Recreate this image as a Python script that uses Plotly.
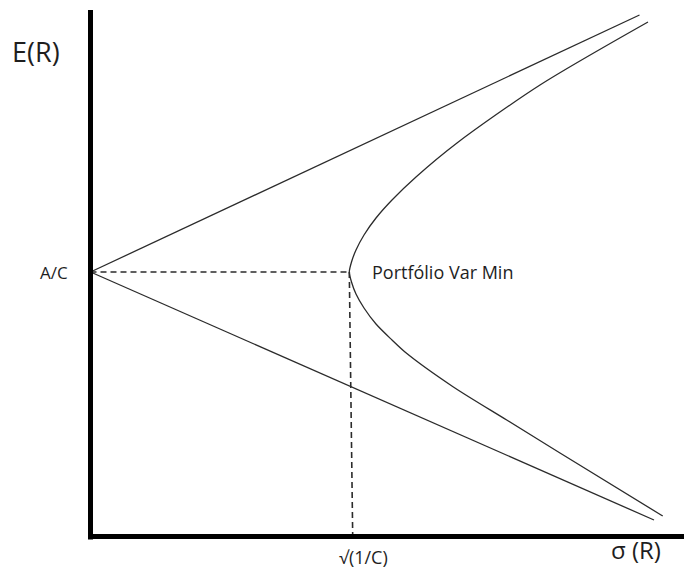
import plotly.graph_objects as go

# Key levels of the mean-variance diagram (arbitrary units)
A_OVER_C = 2.645          # E(R) of the minimum-variance portfolio
SIGMA_MIN = 2.588         # sqrt(1/C), its standard deviation
SIGMA_FOOT = 2.622        # where the dropped guide meets the sigma axis

# Efficient frontier (upper branch, top to vertex, then lower branch)
frontier_sigma = [5.575, 4.495, 3.665, 3.255, 3.015, 2.855, 2.735, 2.655, 2.61, 2.588,
                  2.61, 2.655, 2.735, 2.855, 3.015, 3.145, 3.625, 4.162, 4.695, 5.722]
frontier_ret = [5.145, 4.515, 3.935, 3.595, 3.365, 3.185, 3.015, 2.865, 2.745, 2.645,
                2.545, 2.425, 2.285, 2.125, 1.965, 1.845, 1.498, 1.165, 0.835, 0.205]

# Rays leaving the E(R) axis at A/C
upper_ray_sigma = [0.0, 5.49]
upper_ray_ret = [A_OVER_C, 5.215]
lower_ray_sigma = [0.0, 5.635]
lower_ray_ret = [A_OVER_C, 0.165]

# Axis extents
X_AXIS_END = 5.94
Y_AXIS_TOP = 5.265

LINE = "#2b2b2b"
TEXT = "#1e1e1e"
FONT = "Open Sans"

fig = go.Figure()

fig.add_trace(go.Scatter(x=upper_ray_sigma, y=upper_ray_ret, mode="lines",
                         line=dict(color=LINE, width=1.3), hoverinfo="skip"))
fig.add_trace(go.Scatter(x=lower_ray_sigma, y=lower_ray_ret, mode="lines",
                         line=dict(color=LINE, width=1.3), hoverinfo="skip"))
fig.add_trace(go.Scatter(x=frontier_sigma, y=frontier_ret, mode="lines",
                         line=dict(color=LINE, width=1.3, shape="spline", smoothing=0.8),
                         hoverinfo="skip"))

# Dashed guides to the minimum-variance point
fig.add_trace(go.Scatter(x=[0.0, SIGMA_MIN], y=[A_OVER_C, A_OVER_C], mode="lines",
                         line=dict(color=LINE, width=1.3, dash="6px,4px"), hoverinfo="skip"))
fig.add_trace(go.Scatter(x=[SIGMA_MIN, SIGMA_FOOT], y=[A_OVER_C, 0.0], mode="lines",
                         line=dict(color=LINE, width=1.6, dash="6px,4px"), hoverinfo="skip"))

# Thick axes
fig.add_shape(type="line", x0=0, x1=0, y0=-0.03, y1=Y_AXIS_TOP, xref="x", yref="y",
              line=dict(color="black", width=5))
fig.add_shape(type="line", x0=-0.025, x1=X_AXIS_END, y0=0, y1=0, xref="x", yref="y",
              line=dict(color="black", width=5))

annotations = [
    dict(x=-0.55, y=4.85, text="E(R)", size=27),
    dict(x=-0.365, y=A_OVER_C, text="A/C", size=17),
    dict(x=2.79, y=A_OVER_C, text="Portfólio Var Min", size=18, xanchor="left"),
    dict(x=2.73, y=-0.2, text="√(1/C)", size=18),
    dict(x=5.45, y=-0.13, text="σ (R)", size=24),
]
for a in annotations:
    fig.add_annotation(x=a["x"], y=a["y"], text=a["text"], showarrow=False,
                       xanchor=a.get("xanchor", "center"), yanchor="middle",
                       font=dict(family=FONT, size=a["size"], color=TEXT))

fig.update_layout(
    width=684, height=568,
    margin=dict(l=0, r=0, t=0, b=0),
    paper_bgcolor="white", plot_bgcolor="white",
    showlegend=False,
    xaxis=dict(range=[-0.905, 5.935], visible=False, fixedrange=True),
    yaxis=dict(range=[-0.315, 5.365], visible=False, fixedrange=True),
)

fig.write_html("out.html")
